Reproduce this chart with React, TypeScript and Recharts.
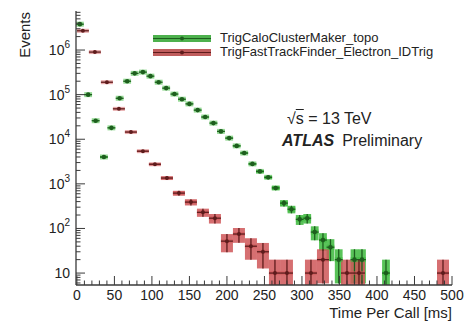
import {
  ComposedChart,
  ErrorBar,
  Legend,
  ReferenceArea,
  Scatter,
  XAxis,
  YAxis,
} from "recharts";

// TrigCaloClusterMaker_topo (green)
const caloTime = [4, 15, 25, 36, 46, 57, 67, 77, 88, 98, 109, 119, 130, 140, 150, 161, 171, 182, 192, 203, 213, 223, 234, 244, 255, 265, 276, 286, 297, 307, 317, 328, 338, 349, 370, 380, 412];
const caloEvents = [3.8e6, 1.0e5, 2.6e4, 4.0e3, 1.8e4, 8.3e4, 2.0e5, 3.0e5, 3.2e5, 2.6e5, 1.9e5, 1.4e5, 1.03e5, 7.9e4, 6.2e4, 4.5e4, 3.15e4, 2.3e4, 1.5e4, 1.06e4, 7.1e3, 4.9e3, 2.8e3, 1.9e3, 1.4e3, 810, 370, 270, 160, 170, 83, 55, 38, 20, 20, 20, 10];

// TrigFastTrackFinder_Electron_IDTrig (red)
const fastTime = [8, 24, 40, 56, 72, 88, 104, 120, 136, 152, 168, 184, 200, 216, 232, 248, 264, 280, 312, 328, 360, 376, 488];
const fastEvents = [2.7e6, 9.0e5, 1.9e5, 4.8e4, 1.45e4, 5.4e3, 2.75e3, 1.35e3, 620, 390, 230, 170, 52, 75, 40, 30, 10, 10, 10, 20, 10, 10, 10];

const xMajorTicks = [0, 50, 100, 150, 200, 250, 300, 350, 400, 450, 500];
const yDecades = [10, 100, 1000, 10000, 100000, 1000000];

const Y_MIN = 5.4;
const Y_MAX = 7.5e6;
const EVENT_WEIGHT = 10;
const FONT = '"Liberation Sans", Arial, Helvetica, sans-serif';
const AXIS = "#3a3a3a";

const xTicks = Array.from({ length: 51 }, (_, i) => i * 10);
const yTicks: number[] = [];
for (let e = 0; e <= 6; e++) {
  for (let m = 1; m <= 9; m++) {
    const v = m * Math.pow(10, e);
    if (v >= Y_MIN && v <= Y_MAX) yTicks.push(v);
  }
}

const series = [
  { name: "TrigCaloClusterMaker_topo", band: "#3cb93c", dark: "#1d5e1d", halo: "rgba(60,185,60,0.55)", legendBand: "#3aa83a" },
  { name: "TrigFastTrackFinder_Electron_IDTrig", band: "#cf5658", dark: "#5e1c1c", halo: "rgba(207,86,88,0.5)", legendBand: "#b84a4a" },
];

function buildRows(time: number[], events: number[], halfWidth: number) {
  return time.map((t, i) => {
    const v = events[i];
    const err = Math.sqrt(EVENT_WEIGHT * v);
    const lo = Math.max(v - err, Y_MIN);
    return { t, v, lo, hi: v + err, hw: halfWidth, ex: halfWidth, ey: [v - lo, err] };
  });
}

const caloRows = buildRows(caloTime, caloEvents, 5.2);
const fastRows = buildRows(fastTime, fastEvents, 8);

function XTick({ x, y, payload }: any) {
  const major = xMajorTicks.includes(payload.value);
  return (
    <g>
      <line x1={x} x2={x} y1={y} y2={y - (major ? 9 : 4.5)} stroke={AXIS} strokeWidth={1} />
      {major && (
        <text x={x} y={y + 15} textAnchor="middle" fontSize={14} fill="#222" fontFamily={FONT}>
          {payload.value}
        </text>
      )}
    </g>
  );
}

function YTick({ x, y, payload }: any) {
  const idx = yDecades.indexOf(payload.value);
  const major = idx >= 0;
  const exp = idx + 1;
  return (
    <g>
      <line x1={x} x2={x + (major ? 9 : 4.5)} y1={y} y2={y} stroke={AXIS} strokeWidth={1} />
      {major && (
        <text x={x - 6} y={y} dy={5} textAnchor="end" fontSize={14} fill="#222" fontFamily={FONT}>
          10
          {exp > 1 && (
            <tspan dy={-7} fontSize={10}>
              {exp}
            </tspan>
          )}
        </text>
      )}
    </g>
  );
}

function LegendBox() {
  return (
    <div style={{ fontFamily: FONT, fontSize: 13, color: "#222" }}>
      {series.map((s) => (
        <div key={s.name} style={{ display: "flex", alignItems: "center", height: 14 }}>
          <svg width={62} height={14}>
            <rect x={3} y={4} width={58} height={7} fill={s.legendBand} opacity={0.9} />
            <line x1={3} x2={61} y1={7.5} y2={7.5} stroke={s.dark} strokeWidth={1.2} />
            <circle cx={32} cy={7.5} r={2} fill={s.dark} />
          </svg>
          <span style={{ marginLeft: 8, lineHeight: "14px" }}>{s.name}</span>
        </div>
      ))}
    </div>
  );
}

export default function App() {
  const [calo, fast] = series;
  return (
    <div style={{ position: "absolute", left: 0, top: 0, width: 464, height: 321, background: "#fff", fontFamily: FONT }}>
      <ComposedChart width={464} height={321} margin={{ top: 11, right: 12, bottom: 0, left: 0 }}>
        <XAxis
          xAxisId={0}
          dataKey="t"
          type="number"
          domain={[0, 500]}
          ticks={xTicks}
          interval={0}
          tickSize={0}
          tickMargin={0}
          tick={<XTick />}
          tickLine={false}
          height={36}
          stroke={AXIS}
          axisLine={{ stroke: AXIS, strokeWidth: 1.3 }}
          label={{
            content: ({ viewBox }: any) => (
              <text x={viewBox.x + viewBox.width} y={viewBox.y + 33} textAnchor="end" fontSize={15} fill="#222" fontFamily={FONT}>
                Time Per Call [ms]
              </text>
            ),
          }}
        />
        <XAxis xAxisId="frameTop" orientation="top" type="number" domain={[0, 500]} height={0} tick={false} tickLine={false} axisLine={{ stroke: AXIS, strokeWidth: 1.3 }} />
        <YAxis
          yAxisId={0}
          dataKey="v"
          type="number"
          scale="log"
          domain={[Y_MIN, Y_MAX]}
          allowDataOverflow
          ticks={yTicks}
          interval={0}
          tickSize={0}
          tickMargin={0}
          tick={<YTick />}
          tickLine={false}
          width={76}
          axisLine={{ stroke: AXIS, strokeWidth: 1.3 }}
          label={{
            content: ({ viewBox }: any) => (
              <text x={30} y={viewBox.y + 1} transform={`rotate(-90, 30, ${viewBox.y + 1})`} textAnchor="end" fontSize={15} fill="#222" fontFamily={FONT}>
                Events
              </text>
            ),
          }}
        />
        <YAxis yAxisId="frameRight" orientation="right" width={0} tick={false} tickLine={false} axisLine={{ stroke: AXIS, strokeWidth: 1.3 }} />

        {caloRows.map((r) => (
          <ReferenceArea key={`c${r.t}`} x1={r.t - r.hw} x2={r.t + r.hw} y1={r.lo} y2={r.hi} fill={calo.band} fillOpacity={0.85} stroke="none" ifOverflow="hidden" />
        ))}
        {fastRows.map((r) => (
          <ReferenceArea key={`f${r.t}`} x1={r.t - r.hw} x2={r.t + r.hw} y1={r.lo} y2={r.hi} fill={fast.band} fillOpacity={0.85} stroke="none" ifOverflow="hidden" />
        ))}

        <Scatter
          name={calo.name}
          data={caloRows}
          fill={calo.dark}
          isAnimationActive={false}
          shape={(p: any) => <circle cx={p.cx} cy={p.cy} r={2.3} fill={calo.dark} />}
        >
          <ErrorBar dataKey="ex" direction="x" width={0} stroke={calo.halo} strokeWidth={5} isAnimationActive={false} />
          <ErrorBar dataKey="ex" direction="x" width={0} stroke={calo.dark} strokeWidth={1.3} isAnimationActive={false} />
          <ErrorBar dataKey="ey" direction="y" width={0} stroke={calo.dark} strokeWidth={1.3} isAnimationActive={false} />
        </Scatter>
        <Scatter
          name={fast.name}
          data={fastRows}
          fill={fast.dark}
          isAnimationActive={false}
          shape={(p: any) => <circle cx={p.cx} cy={p.cy} r={2} fill={fast.dark} />}
        >
          <ErrorBar dataKey="ex" direction="x" width={0} stroke={fast.halo} strokeWidth={4} isAnimationActive={false} />
          <ErrorBar dataKey="ex" direction="x" width={0} stroke={fast.dark} strokeWidth={1.3} isAnimationActive={false} />
          <ErrorBar dataKey="ey" direction="y" width={0} stroke={fast.dark} strokeWidth={1.3} isAnimationActive={false} />
        </Scatter>

        <Legend
          layout="vertical"
          align="center"
          verticalAlign="middle"
          content={() => <LegendBox />}
          wrapperStyle={{ left: 150, top: 31, width: 300 }}
        />
      </ComposedChart>

      <div style={{ position: "absolute", left: 287, top: 111, fontSize: 16, lineHeight: "16px", color: "#222", whiteSpace: "nowrap" }}>
        √<span style={{ textDecoration: "overline" }}>s</span> = 13 TeV
      </div>
      <div style={{ position: "absolute", left: 282, top: 133, fontSize: 16, lineHeight: "16px", color: "#222", whiteSpace: "nowrap" }}>
        <b style={{ fontStyle: "italic" }}>ATLAS</b>
        <span style={{ marginLeft: 8 }}>Preliminary</span>
      </div>
    </div>
  );
}
